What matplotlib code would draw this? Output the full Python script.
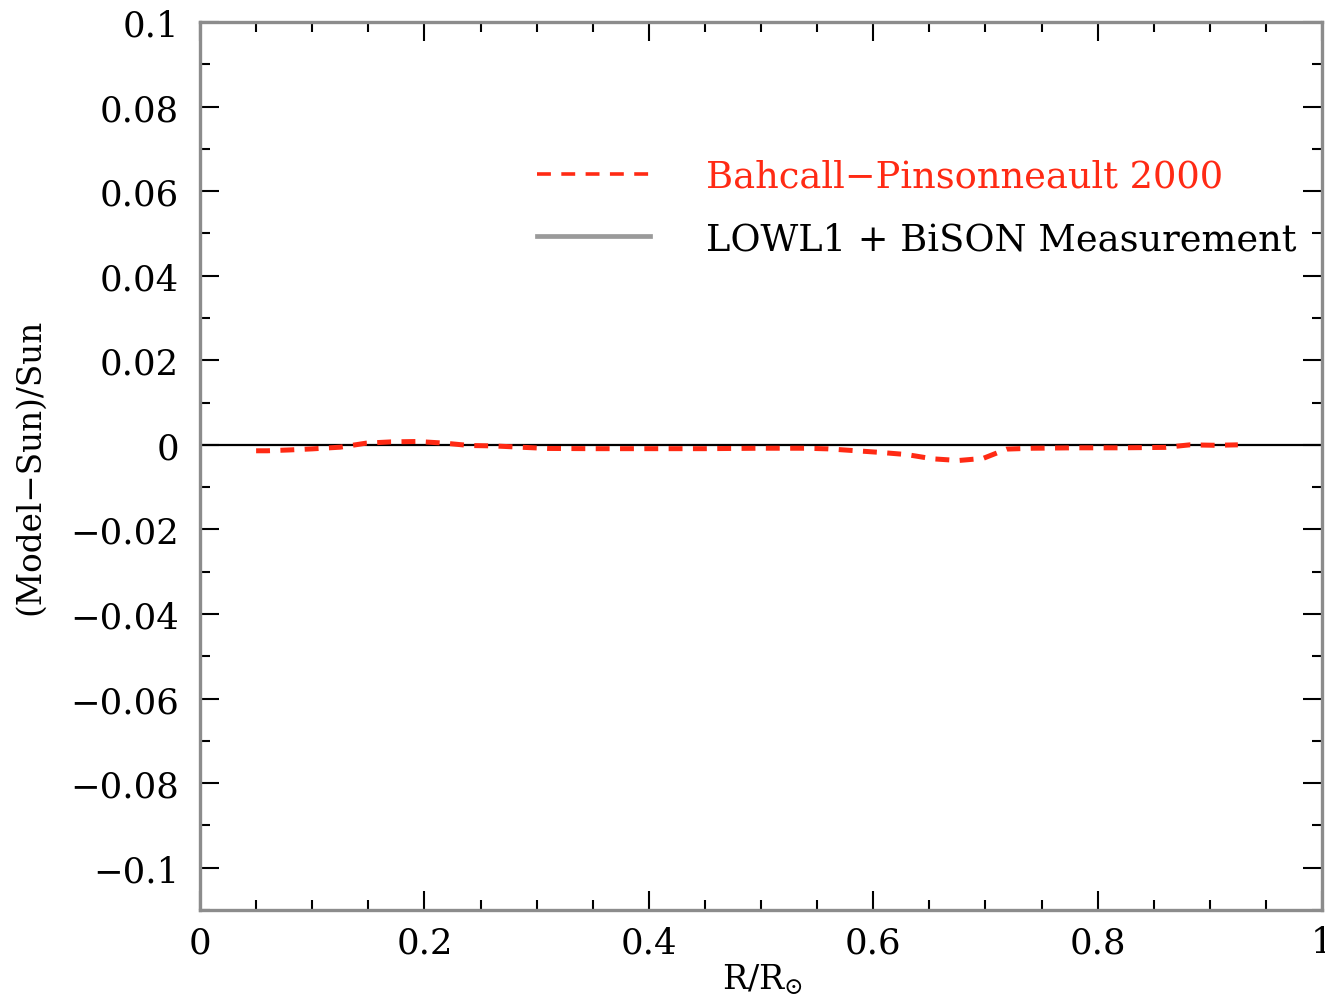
import matplotlib
matplotlib.use("Agg")
import matplotlib.pyplot as plt
from matplotlib.lines import Line2D
from matplotlib.ticker import MultipleLocator, FixedLocator, FuncFormatter

plt.rcParams['font.family'] = ['DejaVu Serif', 'DejaVu Sans']
plt.rcParams['mathtext.fontset'] = 'dejavuserif'
plt.rcParams['lines.scale_dashes'] = False

# Fractional radius and (Model - Sun)/Sun sound-speed deviation for BP2000
bp_r = [0.05, 0.06, 0.08, 0.10, 0.125, 0.148, 0.17, 0.194, 0.218, 0.24,
        0.262, 0.285, 0.31, 0.35, 0.40, 0.45, 0.50, 0.54, 0.56, 0.585,
        0.607, 0.63, 0.653, 0.676, 0.698, 0.719, 0.742, 0.78, 0.82, 0.86,
        0.882, 0.905, 0.925]
bp_dev = [-0.0014, -0.0014, -0.0012, -0.00095, -0.00055, 0.0004, 0.0007,
          0.0008, 0.0004, -0.00015, -0.00025, -0.00055, -0.00085, -0.0009,
          -0.0009, -0.0009, -0.0008, -0.0008, -0.00095, -0.0014, -0.0018,
          -0.0023, -0.0033, -0.0037, -0.0032, -0.001, -0.0008, -0.0007,
          -0.0007, -0.0006, 0.0, -0.0001, 0.0]

# Helioseismic reference (measurement) relative to itself
sun_r = [0.0, 1.0]
sun_dev = [0.0, 0.0]

x_major = [0, 0.2, 0.4, 0.6, 0.8, 1.0]
y_major = [0.1, 0.08, 0.06, 0.04, 0.02, 0, -0.02, -0.04, -0.06, -0.08, -0.1]

label_model = "Bahcall\u2212Pinsonneault 2000"
label_meas = "LOWL1 + BiSON Measurement"

RED = '#ff2a14'
GREY = '#8c8c8c'

fig = plt.figure(figsize=(13.25, 10.03), dpi=100)
ax = fig.add_axes([200 / 1325, 1 - 911 / 1003, 1122 / 1325, 888 / 1003])

ax.plot(sun_r, sun_dev, color='black', lw=1.6, zorder=2)
ax.plot(bp_r, bp_dev, color=RED, lw=3.6, linestyle=(0, (10, 7.5)),
        dash_capstyle='butt', zorder=3)

ax.set_xlim(0, 1)
ax.set_ylim(-0.11, 0.1)

ax.xaxis.set_major_locator(FixedLocator(x_major))
ax.xaxis.set_minor_locator(MultipleLocator(0.05))
ax.yaxis.set_major_locator(FixedLocator(y_major))
ax.yaxis.set_minor_locator(MultipleLocator(0.01))


def fmt(v, pos=None):
    v = round(v, 6)
    if v == 0:
        return "0"
    s = "%g" % v
    return s.replace('-', '\u2212')


ax.xaxis.set_major_formatter(FuncFormatter(fmt))
ax.yaxis.set_major_formatter(FuncFormatter(fmt))

ax.tick_params(which='both', direction='in', top=True, right=True,
               color='black', width=1.5)
ax.tick_params(which='major', length=13.5)
ax.tick_params(which='minor', length=7.5)
ax.tick_params(axis='x', which='major', labelsize=25.5, pad=11)
ax.tick_params(axis='y', which='major', labelsize=25.5, pad=15)

for sp in ax.spines.values():
    sp.set_color(GREY)
    sp.set_linewidth(2.4)

fig.text(30 / 1325, 1 - 467 / 1003, "(Model\u2212Sun)/Sun", rotation=90,
         ha='center', va='center', fontsize=23.5)
fig.text(762 / 1325, 1 - 980 / 1003, r"R/R$_{\odot}$", ha='center',
         va='center', fontsize=24)

handles = [
    Line2D([], [], color=RED, lw=2.6, linestyle=(0, (10, 7.5)),
           dash_capstyle='butt'),
    Line2D([], [], color='#9a9a9a', lw=3.4),
]
leg = ax.legend(handles, [label_model, label_meas], loc='upper left',
                bbox_to_anchor=(0.3004, 0.846), frameon=False, fontsize=26.5,
                handlelength=3.07, handletextpad=1.52, labelspacing=0.72,
                borderpad=0, borderaxespad=0,
                labelcolor=[RED, 'black'])

fig.savefig("out.png", dpi=100)
